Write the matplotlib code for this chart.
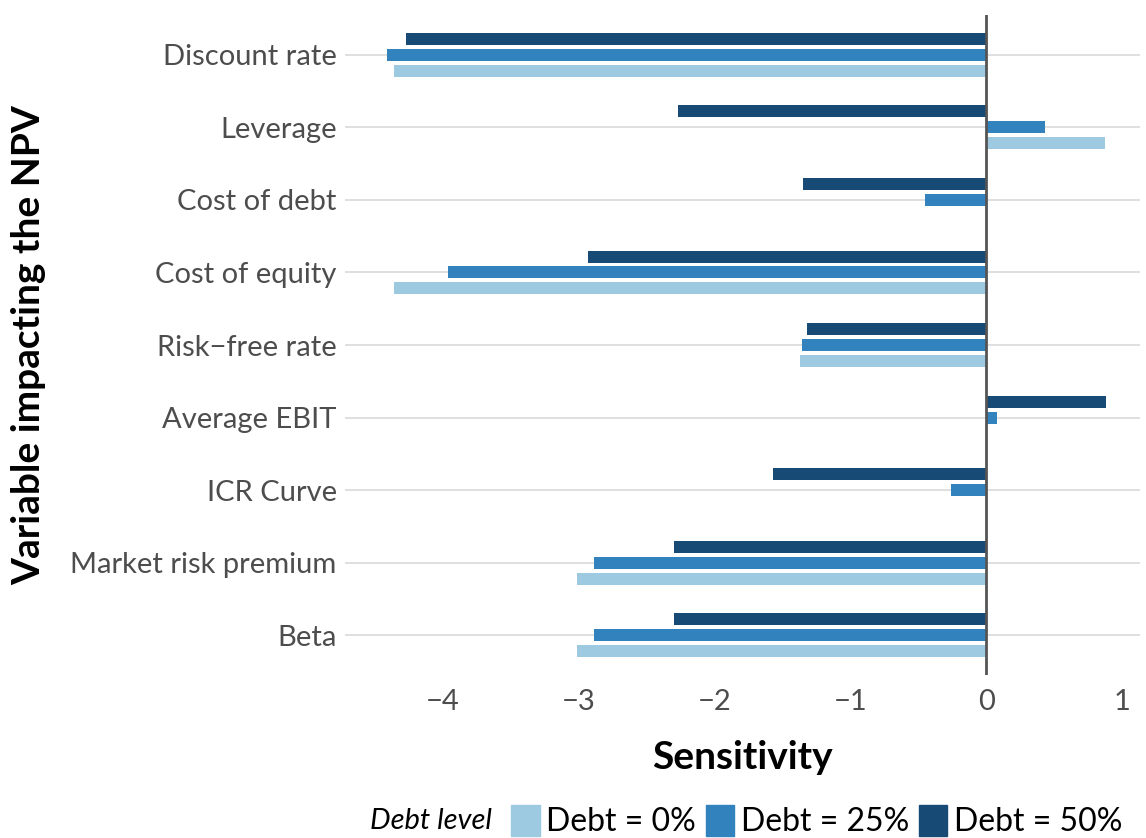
import matplotlib
matplotlib.use("Agg")
import matplotlib.pyplot as plt
import numpy as np
from matplotlib.patches import Patch

categories = ["Beta", "Market risk premium", "ICR Curve", "Average EBIT",
              "Risk\u2212free rate", "Cost of equity", "Cost of debt", "Leverage", "Discount rate"]
debt0 = [-3.01, -3.01, 0.0, 0.0, -1.37, -4.36, 0.0, 0.87, -4.36]
debt25 = [-2.89, -2.89, -0.26, 0.08, -1.36, -3.96, -0.45, 0.43, -4.41]
debt50 = [-2.30, -2.30, -1.57, 0.88, -1.32, -2.93, -1.35, -2.27, -4.27]
series_labels = ["Debt = 0%", "Debt = 25%", "Debt = 50%"]
colors = ["#9ecae1", "#3182bd", "#174a75"]

plt.rcParams['font.family'] = ['Lato', 'DejaVu Sans']

fig = plt.figure(figsize=(11.46, 8.38), dpi=100)
ax = fig.add_axes([345/1146, 1-675/838, (1140-345)/1146, (675-15)/838])

y = np.arange(len(categories))
h = 0.165
sp = 0.22
for vals, off, c in zip([debt0, debt25, debt50], [-sp, 0, sp], colors):
    ax.barh(y + off, vals, height=h, color=c, zorder=3)

ax.set_xlim(-4.72, 1.13)
ax.set_ylim(-0.55, 8.55)
ax.set_yticks(y)
ax.set_yticklabels(categories)
ax.set_xticks([-4, -3, -2, -1, 0, 1])
ax.set_xticklabels(["\u22124", "\u22123", "\u22122", "\u22121", "0", "1"])
ax.tick_params(axis='both', length=0, labelsize=21, labelcolor="#4d4d4d")
ax.tick_params(axis='y', pad=6)
ax.tick_params(axis='x', pad=10)
for s in ax.spines.values():
    s.set_visible(False)
ax.grid(axis='y', color="#d9d9d9", lw=1.2, zorder=0)
ax.grid(axis='x', visible=False)
ax.axvline(0, color="#555555", lw=2, zorder=4)

ax.set_xlabel("Sensitivity", fontsize=28, fontweight='bold', color='black', labelpad=18)
ax.set_ylabel("Variable impacting the NPV", fontsize=28, fontweight='bold', color='black')
ax.yaxis.set_label_coords(-(345-46)/795, 0.5)

handles = [Patch(color=c) for c in colors]
leg = fig.legend(handles, series_labels, loc='center', bbox_to_anchor=(746/1146, 1-821/838),
                 ncol=3, frameon=False, fontsize=23, title="Debt level",
                 handlelength=0.9, handleheight=1.1, handletextpad=0.2, columnspacing=0.3,
                 borderaxespad=0)
leg.get_title().set_fontstyle('italic')
leg.get_title().set_fontsize(21)
from matplotlib.offsetbox import HPacker
box = leg._legend_box
box.__class__ = HPacker
box.align = "center"
box.sep = 14

fig.savefig("out.png", dpi=100)
